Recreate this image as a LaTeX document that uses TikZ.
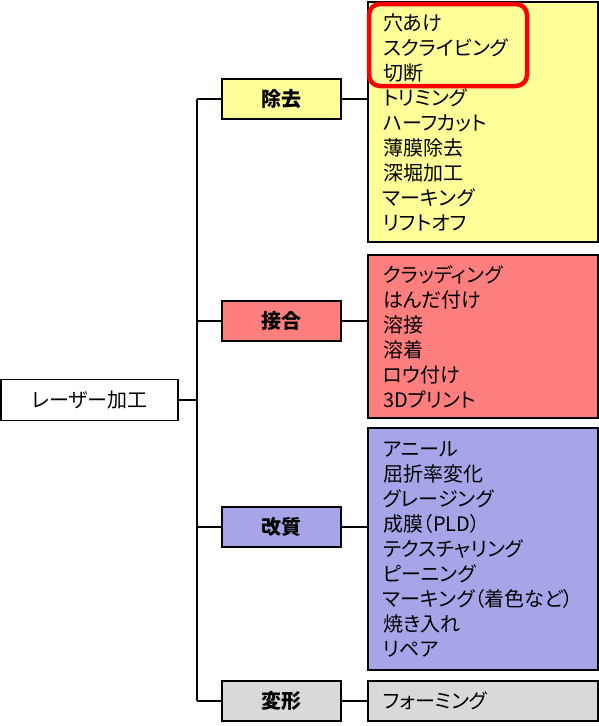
\documentclass[tikz,border=0pt]{standalone}
\usepackage{fontspec}
\setmainfont{Noto Sans CJK JP}[RawFeature=+palt]
\begin{document}
\begin{tikzpicture}[x=1pt, y=-1pt, line width=1.8pt]
    \definecolor{removeColour}{HTML}{FFFF99}
    \definecolor{joinColour}{HTML}{FF7F7F}
    \definecolor{modifyColour}{HTML}{A5A5E8}
    \definecolor{formColour}{HTML}{D9D9D9}
    \definecolor{markColour}{HTML}{FF0000}

    \tikzset{
        rootbox/.style={draw, fill=white, minimum width=177pt, minimum height=41pt,
            font=\fontsize{20}{25}\selectfont},
        catbox/.style={draw, minimum width=119pt, minimum height=40pt,
            font=\bfseries\fontsize{20}{25}\selectfont},
        listbox/.style={draw, text width=200pt, inner xsep=15pt, inner ysep=0pt,
            align=left, font=\fontsize{20}{25}\selectfont},
    }

    \useasboundingbox (0,0) rectangle (599,726);

    % Draw root
    \node[rootbox] (root) at (89.5,400) {レーザー加工};

    % Draw categories
    \node[catbox, fill=removeColour] (remove) at (281.5,99) {除去};
    \node[catbox, fill=joinColour] (join) at (281.5,321) {接合};
    \node[catbox, fill=modifyColour] (modify) at (281.5,527) {改質};
    \node[catbox, fill=formColour] (form) at (281.5,701) {変形};

    % Draw lists
    \node[listbox, fill=removeColour, minimum height=240pt] (removeList) at (483,122)
        {穴あけ\\スクライビング\\切断\\トリミング\\ハーフカット\\薄膜除去\\深堀加工\\マーキング\\リフトオフ};
    \node[listbox, fill=joinColour, minimum height=163pt] (joinList) at (483,336.5)
        {クラッディング\\はんだ付け\\溶接\\溶着\\ロウ付け\\3Dプリント};
    \node[listbox, fill=modifyColour, minimum height=242pt] (modifyList) at (483,549)
        {アニール\\屈折率変化\\グレージング\\成膜（PLD）\\テクスチャリング\\ピーニング\\マーキング（着色など）\\焼き入れ\\リペア};
    \node[listbox, fill=formColour, minimum height=40pt] (formList) at (483,701)
        {フォーミング};

    % Draw connectors
    \coordinate (split) at (197,400);
    \draw (root.east) -- (split);
    \draw (split |- remove.west) -- (split |- form.west);
    \foreach \cat/\lst in {remove/removeList, join/joinList, modify/modifyList, form/formList} {
        \draw (split |- \cat.west) -- (\cat.west);
        \draw (\cat.east) -- (\cat.east -| \lst.west);
    }

    % Mark highlighted items
    \draw[markColour, line width=4.5pt, rounded corners=11pt] (369,4) rectangle (527,86);

\end{tikzpicture}
\end{document}
